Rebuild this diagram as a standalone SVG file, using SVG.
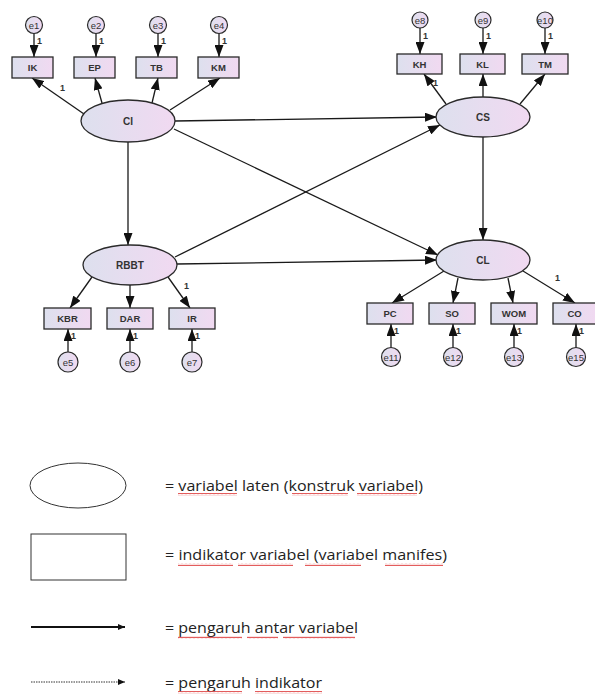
<svg xmlns="http://www.w3.org/2000/svg" width="595" height="696" viewBox="0 0 595 696">
<defs>
  <linearGradient id="g" x1="0" y1="0" x2="1" y2="0">
    <stop offset="0" stop-color="#dde0ee"/>
    <stop offset="1" stop-color="#f1d9f1"/>
  </linearGradient>
  <marker id="ah" markerUnits="userSpaceOnUse" markerWidth="12" markerHeight="9" refX="12" refY="4.5" orient="auto">
    <path d="M0,0 L12,4.5 L0,9 z" fill="#111"/>
  </marker>
  <marker id="ahs" markerUnits="userSpaceOnUse" markerWidth="7" markerHeight="6" refX="7" refY="3" orient="auto">
    <path d="M0,0 L7,3 L0,6 z" fill="#111"/>
  </marker>
  <pattern id="wv" patternUnits="userSpaceOnUse" width="4" height="3">
    <path d="M0,2.2 L1,0.8 L2,2.2 L3,0.8 L4,2.2" fill="none" stroke="#e04a4a" stroke-width="0.9"/>
  </pattern>
  <style>
    .lat { fill: url(#g); stroke: #2a2a2a; stroke-width: 1.3; }
    .box { fill: url(#g); stroke: #2a2a2a; stroke-width: 1.3; }
    .err { fill: url(#g); stroke: #2a2a2a; stroke-width: 1.2; }
    .lt { font-family: "Liberation Sans", Arial, sans-serif; font-weight: bold; font-size: 10px; fill: #333; text-anchor: middle; }
    .bt { font-family: "Liberation Sans", Arial, sans-serif; font-weight: bold; font-size: 9.5px; fill: #333; text-anchor: middle; }
    .et { font-family: "Liberation Sans", Arial, sans-serif; font-size: 9.5px; fill: #333; text-anchor: middle; }
    .one { font-family: "Liberation Sans", Arial, sans-serif; font-weight: bold; font-size: 9px; fill: #333; }
    .c line { stroke: #1a1a1a; stroke-width: 1.3; marker-end: url(#ah); }
    .leg { font-family: "Open Sans", "Liberation Sans", sans-serif; font-size: 14px; fill: #222; }
    .sq { fill: url(#wv); }
  </style>
</defs>
<rect width="595" height="696" fill="#fff"/>

<!-- connectors -->
<g id="connectors" class="c">
  <line x1="175" y1="121" x2="437" y2="117"/>
  <line x1="174" y1="129" x2="438" y2="255"/>
  <line x1="128" y1="142" x2="128" y2="245"/>
  <line x1="175" y1="257" x2="440" y2="125"/>
  <line x1="177" y1="264" x2="437" y2="260"/>
  <line x1="483" y1="137" x2="483" y2="240"/>
  <line x1="84" y1="114" x2="32" y2="78"/>
  <line x1="102" y1="103" x2="95" y2="78"/>
  <line x1="152" y1="103" x2="158" y2="78"/>
  <line x1="170" y1="110" x2="220" y2="78"/>
  <line x1="446" y1="104" x2="424" y2="74"/>
  <line x1="483" y1="97" x2="483" y2="74"/>
  <line x1="520" y1="104" x2="545" y2="74"/>
  <line x1="92" y1="277" x2="70" y2="308"/>
  <line x1="130" y1="285" x2="130" y2="308"/>
  <line x1="168" y1="277" x2="190" y2="308"/>
  <line x1="444" y1="271" x2="392" y2="303"/>
  <line x1="458" y1="278" x2="453" y2="303"/>
  <line x1="508" y1="278" x2="513" y2="303"/>
  <line x1="523" y1="271" x2="575" y2="303"/>
  <line x1="34" y1="33" x2="34" y2="57"/>
  <line x1="96" y1="33" x2="96" y2="57"/>
  <line x1="158" y1="33" x2="158" y2="57"/>
  <line x1="219" y1="33" x2="219" y2="57"/>
  <line x1="420" y1="28" x2="420" y2="54"/>
  <line x1="483" y1="28" x2="483" y2="54"/>
  <line x1="545" y1="28" x2="545" y2="54"/>
  <line x1="68" y1="352" x2="68" y2="329"/>
  <line x1="130" y1="352" x2="130" y2="329"/>
  <line x1="192" y1="352" x2="192" y2="329"/>
  <line x1="391" y1="348" x2="391" y2="324"/>
  <line x1="453" y1="348" x2="453" y2="324"/>
  <line x1="514" y1="348" x2="514" y2="324"/>
  <line x1="576" y1="348" x2="576" y2="324"/>
</g>

<g id="weights">
  <text class="one" x="60" y="91">1</text>
  <text class="one" x="433" y="86">1</text>
  <text class="one" x="184" y="289">1</text>
  <text class="one" x="555" y="281">1</text>
  <text class="one" x="37" y="44">1</text>
  <text class="one" x="99" y="44">1</text>
  <text class="one" x="161" y="44">1</text>
  <text class="one" x="222" y="44">1</text>
  <text class="one" x="423" y="39">1</text>
  <text class="one" x="486" y="39">1</text>
  <text class="one" x="548" y="39">1</text>
  <text class="one" x="71" y="339">1</text>
  <text class="one" x="133" y="339">1</text>
  <text class="one" x="195" y="339">1</text>
  <text class="one" x="394" y="334">1</text>
  <text class="one" x="456" y="334">1</text>
  <text class="one" x="517" y="334">1</text>
  <text class="one" x="579" y="334">1</text>
</g>

<g id="CI"><ellipse class="lat" cx="128" cy="121" rx="47" ry="21"/><text class="lt" x="128" y="125">CI</text></g>
<g id="CS"><ellipse class="lat" cx="483" cy="117" rx="47" ry="20"/><text class="lt" x="483" y="121">CS</text></g>
<g id="RBBT"><ellipse class="lat" cx="130" cy="265" rx="47" ry="20"/><text class="lt" x="130" y="269">RBBT</text></g>
<g id="CL"><ellipse class="lat" cx="483" cy="260" rx="47" ry="20"/><text class="lt" x="483" y="264">CL</text></g>

<g id="IK"><rect class="box" x="12" y="57" width="41" height="21"/><text class="bt" x="32.5" y="71">IK</text></g>
<g id="EP"><rect class="box" x="74" y="57" width="41" height="21"/><text class="bt" x="94.5" y="71">EP</text></g>
<g id="TB"><rect class="box" x="136" y="57" width="41" height="21"/><text class="bt" x="156.5" y="71">TB</text></g>
<g id="KM"><rect class="box" x="198" y="57" width="41" height="21"/><text class="bt" x="218.5" y="71">KM</text></g>

<g id="KH"><rect class="box" x="397" y="54" width="45" height="20"/><text class="bt" x="419.5" y="67.5">KH</text></g>
<g id="KL"><rect class="box" x="460" y="54" width="45" height="20"/><text class="bt" x="482.5" y="67.5">KL</text></g>
<g id="TM"><rect class="box" x="522" y="54" width="46" height="20"/><text class="bt" x="545" y="67.5">TM</text></g>

<g id="KBR"><rect class="box" x="44" y="308" width="47" height="21"/><text class="bt" x="67.5" y="322">KBR</text></g>
<g id="DAR"><rect class="box" x="107" y="308" width="46" height="21"/><text class="bt" x="130" y="322">DAR</text></g>
<g id="IR"><rect class="box" x="169" y="308" width="46" height="21"/><text class="bt" x="192" y="322">IR</text></g>

<g id="PC"><rect class="box" x="367" y="303" width="46" height="21"/><text class="bt" x="390" y="317">PC</text></g>
<g id="SO"><rect class="box" x="429" y="303" width="46" height="21"/><text class="bt" x="452" y="317">SO</text></g>
<g id="WOM"><rect class="box" x="491" y="303" width="46" height="21"/><text class="bt" x="514" y="317">WOM</text></g>
<g id="CO"><rect class="box" x="553" y="303" width="43" height="21"/><text class="bt" x="574.5" y="317">CO</text></g>

<g id="e1"><circle class="err" cx="34" cy="25" r="8.5"/><text class="et" x="34" y="28.5">e1</text></g>
<g id="e2"><circle class="err" cx="96" cy="25" r="8.5"/><text class="et" x="96" y="28.5">e2</text></g>
<g id="e3"><circle class="err" cx="158" cy="25" r="8.5"/><text class="et" x="158" y="28.5">e3</text></g>
<g id="e4"><circle class="err" cx="219" cy="25" r="8.5"/><text class="et" x="219" y="28.5">e4</text></g>
<g id="e8"><circle class="err" cx="420" cy="20" r="8"/><text class="et" x="420" y="23.5">e8</text></g>
<g id="e9"><circle class="err" cx="483" cy="20" r="8"/><text class="et" x="483" y="23.5">e9</text></g>
<g id="e10"><circle class="err" cx="545" cy="20" r="8"/><text class="et" x="545" y="23.5">e10</text></g>
<g id="e5"><circle class="err" cx="68" cy="362" r="10"/><text class="et" x="68" y="365.5">e5</text></g>
<g id="e6"><circle class="err" cx="130" cy="362" r="10"/><text class="et" x="130" y="365.5">e6</text></g>
<g id="e7"><circle class="err" cx="192" cy="362" r="10"/><text class="et" x="192" y="365.5">e7</text></g>
<g id="e11"><circle class="err" cx="391" cy="357" r="9.5"/><text class="et" x="391" y="360.5">e11</text></g>
<g id="e12"><circle class="err" cx="453" cy="357" r="9.5"/><text class="et" x="453" y="360.5">e12</text></g>
<g id="e13"><circle class="err" cx="514" cy="357" r="9.5"/><text class="et" x="514" y="360.5">e13</text></g>
<g id="e15"><circle class="err" cx="576" cy="357" r="9.5"/><text class="et" x="576" y="360.5">e15</text></g>

<g id="legend">
  <ellipse cx="78" cy="485.5" rx="48" ry="22.5" fill="none" stroke="#333" stroke-width="1"/>
  <rect x="31" y="534" width="95" height="46" fill="none" stroke="#333" stroke-width="1"/>
  <line x1="31" y1="627" x2="125" y2="627" stroke="#111" stroke-width="2" marker-end="url(#ahs)"/>
  <line x1="31" y1="682" x2="125" y2="682" stroke="#333" stroke-width="1" stroke-dasharray="1.5,1" marker-end="url(#ahs)"/>
  <text class="leg" x="165" y="491" textLength="258" lengthAdjust="spacingAndGlyphs">= variabel laten (konstruk variabel)</text>
  <text class="leg" x="165" y="560" textLength="282" lengthAdjust="spacingAndGlyphs">= indikator variabel (variabel manifes)</text>
  <text class="leg" x="165" y="633" textLength="193" lengthAdjust="spacingAndGlyphs">= pengaruh antar variabel</text>
  <text class="leg" x="165" y="688" textLength="157" lengthAdjust="spacingAndGlyphs">= pengaruh indikator</text>
  <rect class="sq" x="178" y="493" width="59" height="3"/>
  <rect class="sq" x="292" y="493" width="56" height="3"/>
  <rect class="sq" x="357" y="493" width="60" height="3"/>
  <rect class="sq" x="178" y="563" width="55" height="3"/>
  <rect class="sq" x="238" y="563" width="55" height="3"/>
  <rect class="sq" x="305" y="563" width="56" height="3"/>
  <rect class="sq" x="385" y="563" width="58" height="3"/>
  <rect class="sq" x="178" y="636" width="64" height="3"/>
  <rect class="sq" x="247" y="636" width="31" height="3"/>
  <rect class="sq" x="283" y="636" width="72" height="3"/>
  <rect class="sq" x="178" y="691" width="64" height="3"/>
  <rect class="sq" x="255" y="691" width="67" height="3"/>
</g>
</svg>
